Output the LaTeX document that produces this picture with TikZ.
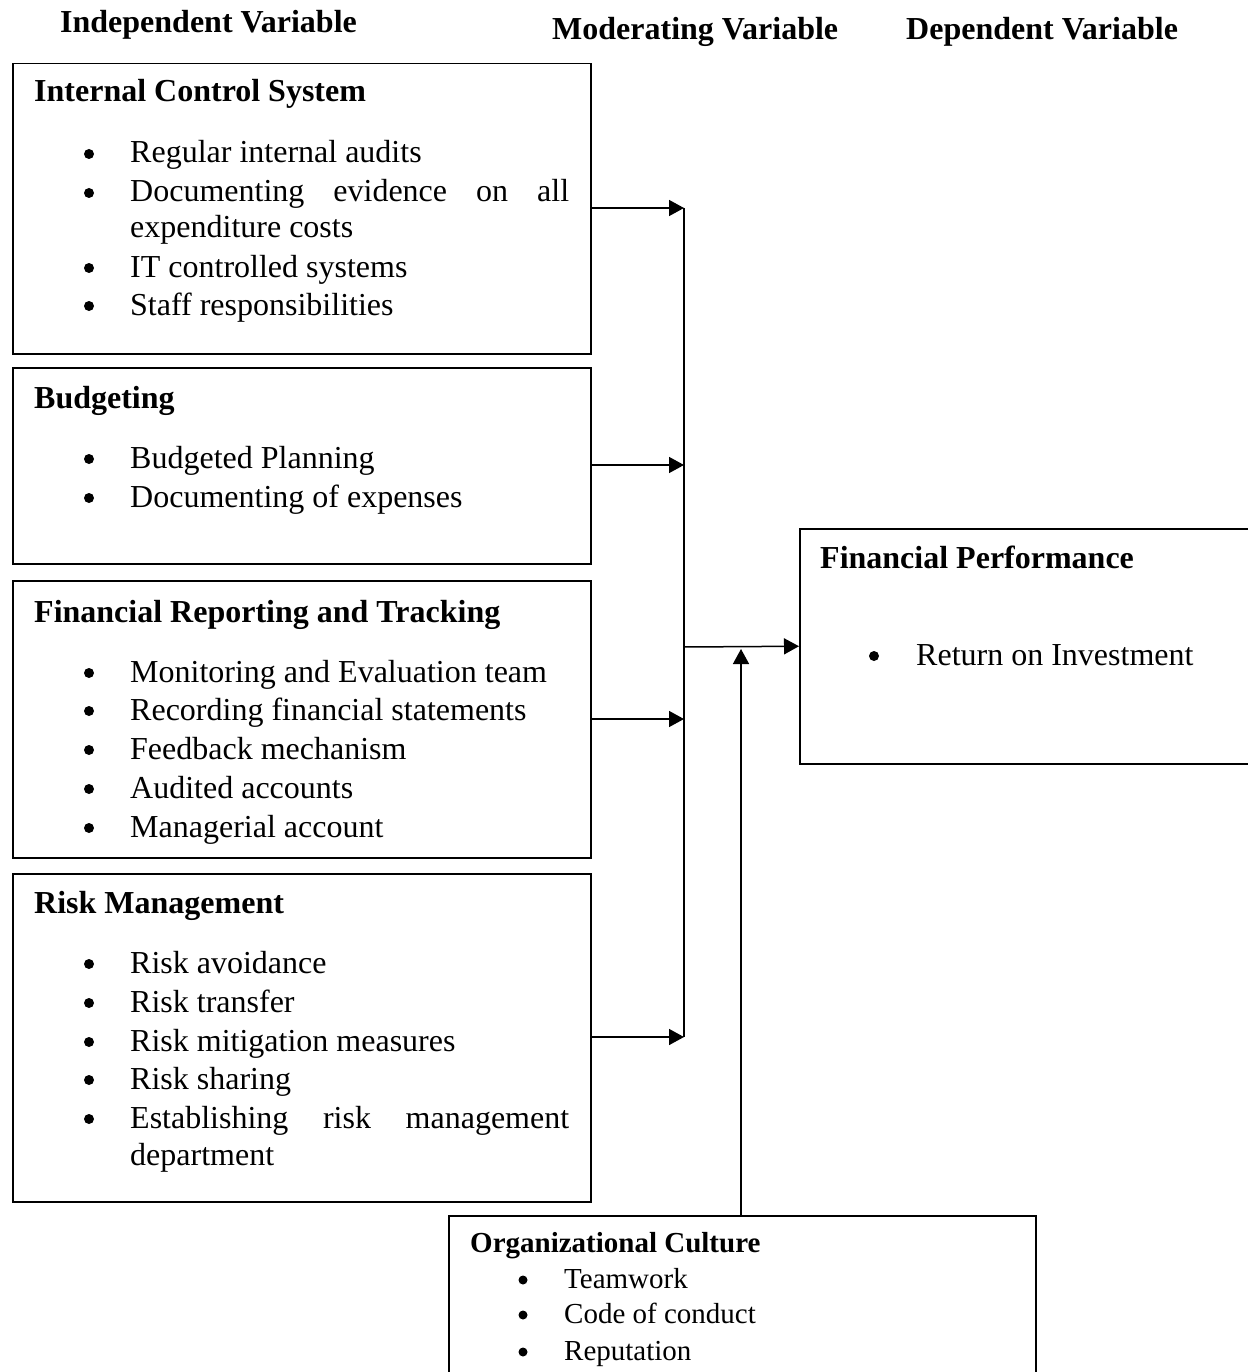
\documentclass[tikz,border=0pt]{standalone}
\usepackage{fontspec}
\setmainfont{Liberation Serif}
\usetikzlibrary{arrows.meta}
\begin{document}
\begin{tikzpicture}[x=1pt,y=-1pt,
  box/.style={draw, line width=1.5pt, inner sep=0pt, anchor=north west},
  txt/.style={anchor=base west, inner sep=0pt, font=\fontsize{32}{38}\selectfont},
  ttl/.style={anchor=base west, inner sep=0pt, font=\fontsize{32}{38}\selectfont\bfseries},
  stxt/.style={anchor=base west, inner sep=0pt, font=\fontsize{29}{35}\selectfont},
  sttl/.style={anchor=base west, inner sep=0pt, font=\fontsize{29}{35}\selectfont\bfseries},
  arr/.style={line width=1.5pt, -{Triangle[length=15pt,width=16pt]}},
  ln/.style={line width=1.5pt}]
\useasboundingbox (0,0) rectangle (1247,1372);

% headers
\node[ttl] (hind) at (60,33) {Independent Variable};
\node[ttl] (hmod) at (552,40) {Moderating Variable};
\node[ttl] (hdep) at (906,40) {Dependent Variable};

% boxes
\node[box, minimum width=578pt, minimum height=290pt] (ics) at (12,63) {};
\node[box, minimum width=578pt, minimum height=196pt] (bud) at (12,367) {};
\node[box, minimum width=578pt, minimum height=277pt] (frt) at (12,580) {};
\node[box, minimum width=578pt, minimum height=328pt] (rm)  at (12,873) {};
\node[box, minimum width=451pt, minimum height=235pt] (fp)  at (799,528) {};
\node[box, minimum width=587pt, minimum height=170pt] (oc)  at (448,1215) {};

% Internal Control System
\node[ttl] (t1) at (34,102) {Internal Control System};
\foreach \y in {163,202,277,315} \fill (89,\y-9) circle (5);
\node[txt] (t1a) at (130,163) {Regular internal audits};
\node[txt] (t1b) at (130,202) {\makebox[439pt][s]{Documenting evidence on all}};
\node[txt] (t1c) at (130,238) {expenditure costs};
\node[txt] (t1d) at (130,277) {IT controlled systems};
\node[txt] (t1e) at (130,315) {Staff responsibilities};

% Budgeting
\node[ttl] (t2) at (34,408) {Budgeting};
\foreach \y in {468,507} \fill (89,\y-9) circle (5);
\node[txt] (t2a) at (130,468) {Budgeted Planning};
\node[txt] (t2b) at (130,507) {Documenting of expenses};

% Financial Reporting and Tracking
\node[ttl] (t3) at (34,622) {Financial Reporting and Tracking};
\foreach \y in {682,720,759,798,837} \fill (89,\y-9) circle (5);
\node[txt] (t3a) at (130,682) {Monitoring and Evaluation team};
\node[txt] (t3b) at (130,720) {Recording financial statements};
\node[txt] (t3c) at (130,759) {Feedback mechanism};
\node[txt] (t3d) at (130,798) {Audited accounts};
\node[txt] (t3e) at (130,837) {Managerial account};

% Risk Management
\node[ttl] (t4) at (34,913) {Risk Management};
\foreach \y in {973,1012,1051,1089,1128} \fill (89,\y-9) circle (5);
\node[txt] (t4a) at (130,973) {Risk avoidance};
\node[txt] (t4b) at (130,1012) {Risk transfer};
\node[txt] (t4c) at (130,1051) {Risk mitigation measures};
\node[txt] (t4d) at (130,1089) {Risk sharing};
\node[txt] (t4e) at (130,1128) {\makebox[439pt][s]{Establishing risk management}};
\node[txt] (t4f) at (130,1165) {department};

% Financial Performance
\node[ttl] (t5) at (820,568) {Financial Performance};
\fill (874,665-9) circle (5);
\node[txt] (t5a) at (916,665) {Return on Investment};

% Organizational Culture
\node[sttl] (t6) at (470,1252) {Organizational Culture};
\foreach \y in {1288,1323,1360} \fill (523,\y-8) circle (4.5);
\node[stxt] (t6a) at (564,1288) {Teamwork};
\node[stxt] (t6b) at (564,1323) {Code of conduct};
\node[stxt] (t6c) at (564,1360) {Reputation};

% connectors
\coordinate (b1) at (684,208);
\coordinate (b2) at (684,465);
\coordinate (b3) at (684,719);
\coordinate (b4) at (684,1037);
\coordinate (bm) at (684,647);
\coordinate (mt) at (741,649);
\coordinate (mb) at (741,1215);
\draw[ln] (b1) -- (b4);
\draw[arr] (ics.east |- b1) -- (b1);
\draw[arr] (bud.east |- b2) -- (b2);
\draw[arr] (frt.east |- b3) -- (b3);
\draw[arr] (rm.east |- b4) -- (b4);
\draw[arr] (bm) -- (fp.west);
\draw[arr] (mb) -- (mt);
\end{tikzpicture}
\end{document}
